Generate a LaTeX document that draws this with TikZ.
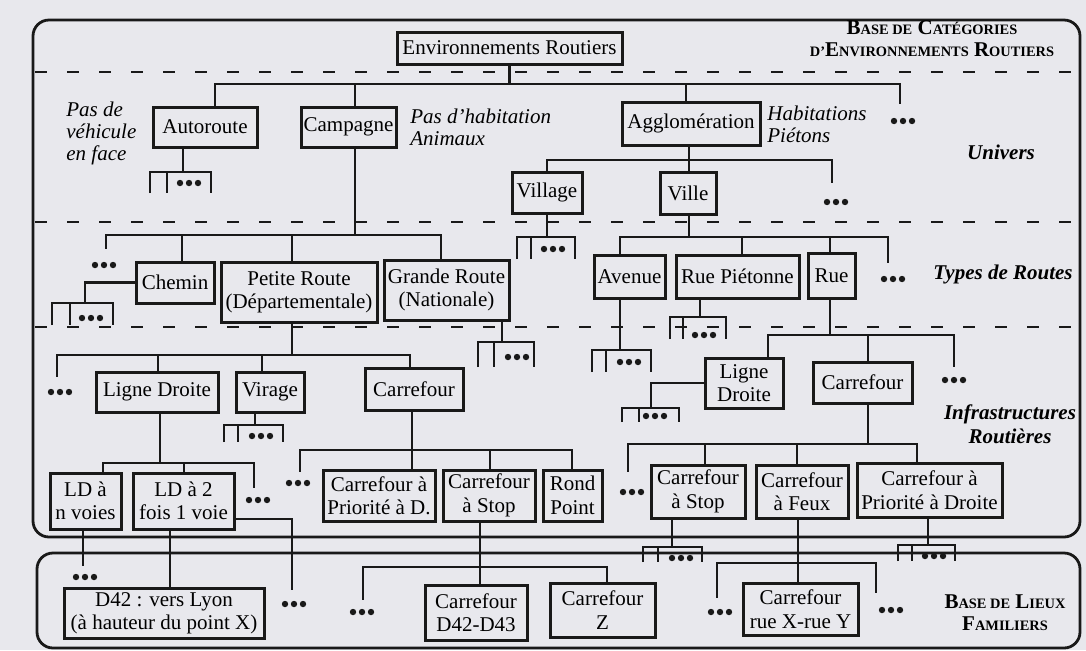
\documentclass[tikz,border=0pt]{standalone}
\usepackage{fontspec}
\setmainfont{Liberation Serif}
\definecolor{bg}{RGB}{232,232,237}
\definecolor{lc}{RGB}{25,25,25}
\tikzset{
  conn/.style={draw=lc, line width=1.25pt},
  box/.style={draw=lc, line width=1.5pt, fill=bg, inner sep=0pt, align=center, font=\fontsize{10.5}{11.7}\selectfont},
  dotn/.style={inner sep=0pt, minimum width=13pt, minimum height=4pt},
  frame/.style={draw=lc, line width=1.4pt, rounded corners=8pt},
  sep/.style={draw=lc, line width=1.4pt, dash pattern=on 6pt off 10pt},
  note/.style={font=\fontsize{10.5}{11}\selectfont\itshape, align=left, anchor=west, inner sep=0pt},
  lvl/.style={font=\fontsize{10.5}{12}\selectfont\bfseries\itshape, align=center, inner sep=0pt},
  base/.style={font=\fontsize{10.5}{11}\selectfont\bfseries, align=center, inner sep=0pt},
}
\newcommand{\scS}[1]{{\fontsize{7.2}{11}\selectfont #1}}
\newcommand{\bx}[6]{\node[box, minimum width={(#4-#2)*0.5pt}, minimum height={(#5-#3)*0.5pt}] (#1) at ({(#2+#4)/2},{(#3+#5)/2}) {#6};}
\newcommand{\dts}[3]{\node[dotn] (#1) at (#2,#3) {};\foreach \k in {-1,0,1}{\fill[lc] ([xshift=\k*4.5pt]#1.center) circle[radius=1.6pt];}}
\newcommand{\frk}[9]{\coordinate (#1) at (#2,#6);\draw[conn] (#3,#7) -- (#3,#6) -- (#5,#6) -- (#5,#7);\draw[conn] (#4,#6) -- (#4,#7);\dts{#1d}{#8}{#9}}
\newcommand{\tedge}[3]{\draw[conn] (#1) -- (#1 |- 0,#2) -| (#3);}
\begin{document}
\begin{tikzpicture}[x=0.5pt,y=-0.5pt]
\fill[bg] (0,0) rectangle (1086,650);
\useasboundingbox (0,0) rectangle (1086,650);
% frames and separators
\draw[frame] (33,20) rectangle (1080,537);
\draw[frame] (37,553) rectangle (1080,648);
\draw[sep] (35,72) -- (1080,72);
\draw[sep] (35,222) -- (1080,222);
\draw[sep] (35,327) -- (1080,327);
% titles
\node[base] (tcat) at (932,39) {B\scS{ASE DE} C\scS{ATÉGORIES}\\\scS{D'}E\scS{NVIRONNEMENTS} R\scS{OUTIERS}};
\node[base] (tlf) at (1005,613) {B\scS{ASE DE} L\scS{IEUX}\\F\scS{AMILIERS}};
\node[lvl] (lu) at (1001,152) {Univers};
\node[lvl] (lt) at (1003,274) {Types de Routes};
\node[lvl] (li) at (1010,424) {Infrastructures\\Routières};
% notes
\node[note] (n1) at (66,133) {Pas de\\véhicule\\en face};
\node[note] (n2) at (410,127) {Pas d'habitation\\Animaux};
\node[note] (n3) at (767,124) {Habitations\\Piétons};
% boxes
\bx{env}{397}{32}{622}{64}{Environnements Routiers}
\bx{aut}{153}{107}{257}{147}{Autoroute}
\bx{camp}{301}{107}{396}{147}{Campagne}
\bx{aggl}{622}{102}{760}{145}{Agglomération}
\bx{vilg}{512}{172}{582}{213}{Village}
\bx{ville}{660}{172}{716}{214}{Ville}
\bx{chem}{136}{262}{214}{303}{Chemin}
\bx{pr}{221}{262}{377}{322}{Petite Route\\(Départementale)}
\bx{gr}{384}{260}{509}{320}{Grande Route\\(Nationale)}
\bx{ave}{594}{255}{665}{298}{Avenue}
\bx{rp}{676}{255}{799}{298}{Rue Piétonne}
\bx{rue}{808}{253}{855}{298}{Rue}
\bx{ld}{96}{372}{218}{412}{Ligne Droite}
\bx{vir}{236}{372}{304}{412}{Virage}
\bx{carl}{365}{368}{463}{410}{Carrefour}
\bx{ldr}{705}{358}{783}{408}{Ligne\\Droite}
\bx{carr}{813}{362}{912}{403}{Carrefour}
\bx{ldn}{50}{473}{121}{529}{LD à\\n voies}
\bx{ld2}{133}{473}{234}{529}{LD à 2\\fois 1 voie}
\bx{cpd}{323}{470}{435}{521}{Carrefour à\\Priorité à D.}
\bx{csl}{443}{470}{535}{521}{Carrefour\\à Stop}
\bx{rond}{543}{470}{602}{521}{Rond\\Point}
\bx{csr}{651}{465}{745}{518}{Carrefour\\à Stop}
\bx{cfx}{756}{465}{848}{518}{Carrefour\\à Feux}
\bx{cpdr}{857}{463}{1002}{517}{Carrefour à\\Priorité à Droite}
\bx{d42}{64}{588}{264}{638}{D42 : vers Lyon\\(à hauteur du point X)}
\bx{cdd}{425}{585}{527}{640}{Carrefour\\D42-D43}
\bx{cz}{550}{583}{655}{637}{Carrefour\\Z}
\bx{cxy}{743}{583}{858}{635}{Carrefour\\rue X-rue Y}
% environnements
\coordinate (d1t) at (900,104);
\tedge{env.south}{84}{aut.north -| 215,0}
\tedge{env.south}{84}{camp.north -| 355,0}
\tedge{env.south}{84}{aggl.north -| 686,0}
\tedge{env.south}{84}{d1t}
\dts{d1}{903}{121}
% autoroute
\coordinate (autb) at (aut.south -| 183,0);
\frk{autf}{183}{150}{167}{211}{172}{193}{189}{183}
\draw[conn] (autb) -- (autf);
% campagne
\coordinate (campb) at (camp.south -| 355,0);
\coordinate (d3t) at (106,249);
\tedge{campb}{235}{d3t}
\tedge{campb}{235}{chem.north -| 182,0}
\tedge{campb}{235}{pr.north -| 292,0}
\tedge{campb}{235}{gr.north -| 441,0}
\dts{d3}{104}{265}
% chemin
\frk{chf}{85}{52}{70}{113}{303}{325}{91}{318}
\draw[conn] (chem.west) -| (chf);
% grande route
\coordinate (grb) at (gr.south -| 502,0);
\frk{grf}{502}{478}{494}{534}{342}{367}{517}{357}
\draw[conn] (grb) -- (grf);
% petite route
\coordinate (prb) at (pr.south -| 292,0);
\coordinate (d5t) at (57,377);
\tedge{prb}{355}{d5t}
\tedge{prb}{355}{ld.north -| 158,0}
\tedge{prb}{355}{vir.north -| 262,0}
\tedge{prb}{355}{carl.north -| 410,0}
\dts{d5}{60}{392}
% virage
\coordinate (virb) at (vir.south -| 255,0);
\frk{virf}{255}{224}{238}{283}{425}{442}{261}{436}
\draw[conn] (virb) -- (virf);
% ligne droite
\coordinate (ldb) at (ld.south -| 160,0);
\coordinate (d7t) at (254,488);
\tedge{ldb}{463}{ldn.north -| 103,0}
\tedge{ldb}{463}{ld2.north -| 184,0}
\tedge{ldb}{463}{d7t}
\dts{d7}{258}{500}
% carrefour (gauche)
\coordinate (carlb) at (carl.south -| 412,0);
\coordinate (d8t) at (300,472);
\tedge{carlb}{450}{d8t}
\tedge{carlb}{450}{cpd.north -| 412,0}
\tedge{carlb}{450}{csl.north -| 490,0}
\tedge{carlb}{450}{rond.north -| 572,0}
\dts{d8}{298}{483}
% agglomeration
\coordinate (agglb) at (aggl.south -| 689,0);
\coordinate (d2t) at (832,183);
\tedge{agglb}{160}{vilg.north -| 547,0}
\tedge{agglb}{160}{ville.north -| 689,0}
\tedge{agglb}{160}{d2t}
\dts{d2}{836}{202}
% village
\coordinate (vilgb) at (vilg.south -| 547,0);
\frk{vilgf}{547}{517}{531}{575}{237}{259}{553}{249}
\draw[conn] (vilgb) -- (vilgf);
% ville
\coordinate (villeb) at (ville.south -| 689,0);
\coordinate (d4t) at (888,263);
\tedge{villeb}{237}{ave.north -| 620,0}
\tedge{villeb}{237}{rp.north -| 742,0}
\tedge{villeb}{237}{rue.north -| 830,0}
\tedge{villeb}{237}{d4t}
\dts{d4}{893}{279}
% avenue
\coordinate (aveb) at (ave.south -| 620,0);
\frk{avef}{620}{592}{606}{651}{350}{372}{629}{362}
\draw[conn] (aveb) -- (avef);
% rue pietonne
\coordinate (rpb) at (rp.south -| 700,0);
\frk{rpf}{700}{670}{683}{726}{317}{339}{704}{335}
\draw[conn] (rpb) -- (rpf);
% rue
\coordinate (rueb) at (rue.south -| 830,0);
\coordinate (d6t) at (954,367);
\tedge{rueb}{335}{ldr.north -| 768,0}
\tedge{rueb}{335}{carr.north -| 868,0}
\tedge{rueb}{335}{d6t}
\dts{d6}{954}{380}
% ligne droite (droite)
\frk{ldrf}{651}{622}{639}{679}{408}{422}{655}{416}
\draw[conn] (ldr.west) -| (ldrf);
% carrefour (droite)
\coordinate (carrb) at (carr.south -| 868,0);
\coordinate (d9t) at (628,472);
\tedge{carrb}{444}{d9t}
\tedge{carrb}{444}{csr.north -| 705,0}
\tedge{carrb}{444}{cfx.north -| 797,0}
\tedge{carrb}{444}{cpdr.north -| 917,0}
\dts{d9}{632}{492}
% lieux familiers
\coordinate (ldnb) at (ldn.south -| 83,0);
\coordinate (d10t) at (83,566);
\draw[conn] (ldnb) -- (d10t);
\dts{d10}{85}{577}
\coordinate (ld2b) at (ld2.south -| 170,0);
\draw[conn] (ld2b) -- (d42.north -| 170,0);
\coordinate (ld2e) at (ld2.east |- 0,519);
\coordinate (d11t) at (292,590);
\draw[conn] (ld2e) -| (d11t);
\dts{d11}{294}{604}
\coordinate (cslb) at (csl.south -| 480,0);
\coordinate (d12t) at (363,600);
\tedge{cslb}{567}{d12t}
\tedge{cslb}{567}{cdd.north -| 480,0}
\tedge{cslb}{567}{cz.north -| 607,0}
\dts{d12}{362}{612}
\coordinate (csrb) at (csr.south -| 672,0);
\frk{csrf}{672}{643}{658}{702}{547}{562}{681}{558}
\draw[conn] (csrb) -- (csrf);
\coordinate (cfxb) at (cfx.south -| 798,0);
\coordinate (d13t) at (717,598);
\coordinate (d14t) at (876,593);
\tedge{cfxb}{563}{d13t}
\tedge{cfxb}{563}{cxy.north -| 798,0}
\tedge{cfxb}{563}{d14t}
\dts{d13}{720}{612}
\dts{d14}{891}{610}
\coordinate (cpdrb) at (cpdr.south -| 928,0);
\frk{cpdrf}{928}{898}{912}{955}{545}{561}{934}{556}
\draw[conn] (cpdrb) -- (cpdrf);
\end{tikzpicture}
\end{document}
